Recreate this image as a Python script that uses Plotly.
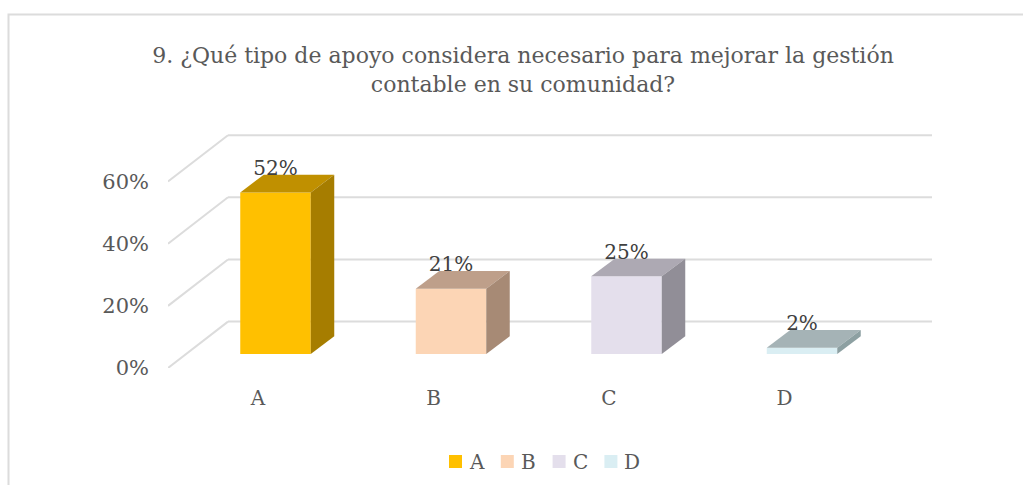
import plotly.graph_objects as go

# values
categories = ["A", "B", "C", "D"]
values = [52, 21, 25, 2]
y_ticks = [0, 20, 40, 60]
title_text = ("9. ¿Qué tipo de apoyo considera necesario para mejorar la gestión"
              "<br>contable en su comunidad?")

# colours per bar
front_colors = ["#FFC000", "#FCD5B5", "#E4DFEC", "#DAEEF3"]
top_colors = ["#C09000", "#BE9F8A", "#ADA9B3", "#A5B3B6"]
side_colors = ["#A67D00", "#A78A75", "#918E97", "#8DA0A2"]

FONT = "DejaVu Serif"
GRID = "#DCDCDC"
W, H = 1023, 485

# plot area in pixels, the axes are the front plane of the 3D box
PLOT_L, PLOT_R, PLOT_T, PLOT_B = 168, 940, 125, 368
PX_X = 175.5  # pixels per category
PX_Y = 3.107  # pixels per percent
x_min = -(258 - PLOT_L) / PX_X
x_max = (PLOT_R - 258) / PX_X
y_max = (PLOT_B - PLOT_T) / PX_Y

# oblique offsets, in axis units
WALL_DX, WALL_DY = 60 / PX_X, 46.4 / PX_Y
WALL_END = (932 - 258) / PX_X
BAR_SHIFT, BAR_BASE = 17.5 / PX_X, 14 / PX_Y
BAR_W = 70.5 / PX_X
BAR_DX, BAR_DY = 23.5 / PX_X, 17.7 / PX_Y
LABEL_GAP = 22.5 / PX_Y

fig = go.Figure()

# front faces
for i, cat in enumerate(categories):
    fig.add_trace(go.Bar(
        x=[i + BAR_SHIFT],
        y=[values[i]],
        base=BAR_BASE,
        width=BAR_W,
        name=cat,
        marker=dict(color=front_colors[i], line=dict(width=0)),
        hovertemplate=cat + ": %{y}%<extra></extra>",
    ))

# top and side faces
for i, cat in enumerate(categories):
    left = i + BAR_SHIFT - BAR_W / 2
    right = i + BAR_SHIFT + BAR_W / 2
    top = BAR_BASE + values[i]
    fig.add_trace(go.Scatter(
        x=[left, right, right + BAR_DX, left + BAR_DX, left],
        y=[top, top, top + BAR_DY, top + BAR_DY, top],
        mode="lines", fill="toself", fillcolor=top_colors[i],
        line=dict(width=0), hoverinfo="skip",
    ))
    fig.add_trace(go.Scatter(
        x=[right, right + BAR_DX, right + BAR_DX, right, right],
        y=[BAR_BASE, BAR_BASE + BAR_DY, top + BAR_DY, top, BAR_BASE],
        mode="lines", fill="toself", fillcolor=side_colors[i],
        line=dict(width=0), hoverinfo="skip",
    ))

# data labels
fig.add_trace(go.Scatter(
    x=[i + BAR_SHIFT for i in range(len(categories))],
    y=[BAR_BASE + v + LABEL_GAP for v in values],
    mode="text",
    text=[f"{v}%" for v in values],
    textposition="middle center",
    textfont=dict(family=FONT, size=20, color="#404040"),
    hoverinfo="skip",
))

# walls: diagonal on the left, horizontal at the back
shapes = []
for t in y_ticks:
    shapes.append(dict(type="line", xref="x", yref="y", layer="below",
                       x0=x_min, y0=t, x1=x_min + WALL_DX, y1=t + WALL_DY,
                       line=dict(color=GRID, width=2)))
    shapes.append(dict(type="line", xref="x", yref="y", layer="below",
                       x0=x_min + WALL_DX, y0=t + WALL_DY, x1=WALL_END, y1=t + WALL_DY,
                       line=dict(color=GRID, width=2)))

# chart border, cut by the window on the right and at the bottom
shapes.append(dict(type="rect", xref="paper", yref="paper", layer="below",
                   x0=8.5 / W, x1=1.02, y0=-0.02, y1=1 - 14.5 / H,
                   line=dict(color=GRID, width=2)))

# legend drawn by hand, the native one cannot get this close to its swatches
LEG_X, LEG_STEP, LEG_Y, LEG_BOX = 449, 51.8, 461.5, 13
annotations = []
for i, cat in enumerate(categories):
    x = LEG_X + i * LEG_STEP
    shapes.append(dict(type="rect", xref="paper", yref="paper",
                       x0=x / W, x1=(x + LEG_BOX) / W,
                       y0=1 - (LEG_Y + LEG_BOX / 2) / H, y1=1 - (LEG_Y - LEG_BOX / 2) / H,
                       fillcolor=front_colors[i], line=dict(width=0)))
    annotations.append(dict(text=cat, xref="paper", yref="paper",
                            x=(x + 18) / W, xanchor="left",
                            y=1 - LEG_Y / H, yanchor="middle", showarrow=False,
                            font=dict(family=FONT, size=20, color="#595959")))

fig.update_layout(
    width=W,
    height=H,
    margin=dict(l=0, r=0, t=0, b=0, autoexpand=False),
    paper_bgcolor="white",
    plot_bgcolor="rgba(0,0,0,0)",
    showlegend=False,
    font=dict(family=FONT, color="#595959"),
    title=dict(
        text=title_text,
        x=523 / W,
        xanchor="center",
        y=1 - 63 / H,
        yanchor="top",
        font=dict(family=FONT, size=22, color="#595959"),
    ),
    xaxis=dict(
        domain=[PLOT_L / W, PLOT_R / W],
        range=[x_min, x_max],
        tickvals=list(range(len(categories))),
        ticktext=categories,
        showgrid=False, zeroline=False, showline=False,
        ticklabelstandoff=16,
        tickfont=dict(family=FONT, size=20, color="#595959"),
    ),
    yaxis=dict(
        domain=[1 - PLOT_B / H, 1 - PLOT_T / H],
        range=[0, y_max],
        tickvals=y_ticks,
        ticktext=[f"{t}%" for t in y_ticks],
        showgrid=False, zeroline=False, showline=False,
        ticklabelstandoff=18,
        tickfont=dict(family=FONT, size=21, color="#595959"),
    ),
    shapes=shapes,
    annotations=annotations,
    barmode="overlay",
)

# the page body has a default margin that would shift the figure
fig.write_html("out.html", config=dict(displayModeBar=False),
               post_script="document.body.style.margin = '0';")
